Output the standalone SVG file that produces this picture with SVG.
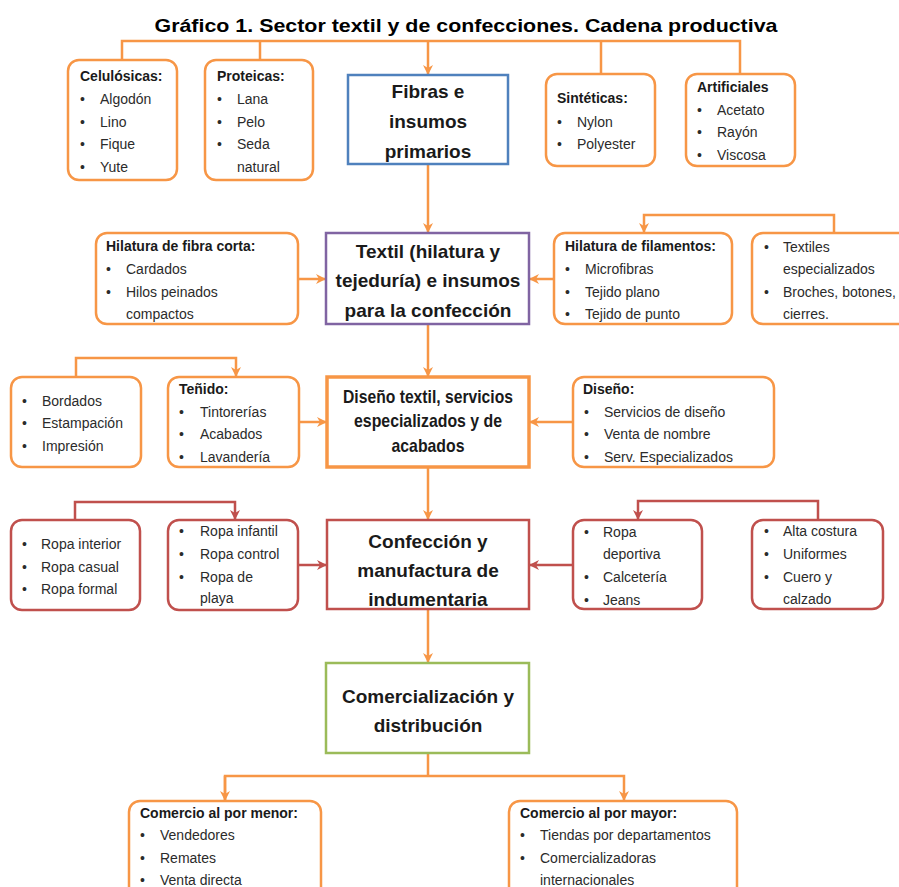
<svg xmlns="http://www.w3.org/2000/svg" width="899" height="887" viewBox="0 0 899 887">
<style>
.t{font-family:"Liberation Sans",Arial,sans-serif;font-size:14px;fill:#2b2b2b}
.h{font-weight:bold;fill:#1a1a1a}
.m{font-family:"Liberation Sans",Arial,sans-serif;font-size:19px;font-weight:bold;fill:#1a1a1a;text-anchor:middle}
.ob{fill:#fff;stroke:#f79646;stroke-width:2.5}
.rb{fill:#fff;stroke:#c0504d;stroke-width:2.5}
.oc{fill:none;stroke:#f79646;stroke-width:2.5}
.rc{fill:none;stroke:#c0504d;stroke-width:2.5}
</style>
<defs>
<marker id="ao" viewBox="0 0 10 10" refX="10" refY="5" markerWidth="10" markerHeight="10" markerUnits="userSpaceOnUse" orient="auto"><path d="M0,0 L10,5 L0,10 L3,5 z" fill="#f79646"/></marker>
<marker id="ar" viewBox="0 0 10 10" refX="10" refY="5" markerWidth="10" markerHeight="10" markerUnits="userSpaceOnUse" orient="auto"><path d="M0,0 L10,5 L0,10 L3,5 z" fill="#c0504d"/></marker>
</defs>
<rect width="899" height="887" fill="#fff"/>
<text x="466" y="32" class="m" font-size="20" textLength="623" lengthAdjust="spacingAndGlyphs" style="fill:#000">Gráfico 1. Sector textil y de confecciones. Cadena productiva</text>

<g id="connectors">
<polyline class="oc" points="122,60 122,41 740,41 740,74"/>
<line class="oc" x1="260" y1="41" x2="260" y2="60"/>
<line class="oc" x1="601" y1="41" x2="601" y2="74"/>
<line class="oc" x1="428" y1="41" x2="428" y2="75" marker-end="url(#ao)"/>
<line class="oc" x1="428" y1="164" x2="428" y2="233" marker-end="url(#ao)"/>
<line class="oc" x1="298" y1="279" x2="326" y2="279" marker-end="url(#ao)"/>
<line class="oc" x1="554" y1="279" x2="529" y2="279" marker-end="url(#ao)"/>
<polyline class="oc" points="834,233 834,215 644,215 644,233" marker-end="url(#ao)"/>
<line class="oc" x1="428" y1="324" x2="428" y2="377" marker-end="url(#ao)"/>
<polyline class="oc" points="76,377 76,358 236,358 236,377" marker-end="url(#ao)"/>
<line class="oc" x1="299" y1="422" x2="327" y2="422" marker-end="url(#ao)"/>
<line class="oc" x1="573" y1="422" x2="529" y2="422" marker-end="url(#ao)"/>
<line class="oc" x1="428" y1="467" x2="428" y2="520" marker-end="url(#ao)"/>
<polyline class="rc" points="75,520 75,502 235,502 235,520" marker-end="url(#ar)"/>
<line class="rc" x1="298" y1="565" x2="327" y2="565" marker-end="url(#ar)"/>
<polyline class="rc" points="818,520 818,501 638,501 638,520" marker-end="url(#ar)"/>
<line class="rc" x1="573" y1="565" x2="529" y2="565" marker-end="url(#ar)"/>
<line class="oc" x1="428" y1="609" x2="428" y2="663" marker-end="url(#ao)"/>
<line class="oc" x1="428" y1="753" x2="428" y2="776"/>
<polyline class="oc" points="225,801 225,776 624,776 624,801" marker-end="url(#ao)"/>
<line class="oc" x1="225" y1="776" x2="225" y2="801" marker-end="url(#ao)"/>
</g>

<g id="celulosicas">
<rect class="ob" x="68" y="60" width="109" height="120" rx="11"/>
<text class="t h" x="80" y="81">Celulósicas:</text>
<text class="t"><tspan x="80" y="104">•</tspan><tspan x="100" y="104">Algodón</tspan><tspan x="80" y="127">•</tspan><tspan x="100" y="127">Lino</tspan><tspan x="80" y="149">•</tspan><tspan x="100" y="149">Fique</tspan><tspan x="80" y="172">•</tspan><tspan x="100" y="172">Yute</tspan></text>
</g>
<g id="proteicas">
<rect class="ob" x="205" y="60" width="108" height="120" rx="11"/>
<text class="t h" x="217" y="81">Proteicas:</text>
<text class="t"><tspan x="217" y="104">•</tspan><tspan x="237" y="104">Lana</tspan><tspan x="217" y="127">•</tspan><tspan x="237" y="127">Pelo</tspan><tspan x="217" y="149">•</tspan><tspan x="237" y="149">Seda</tspan><tspan x="237" y="172">natural</tspan></text>
</g>
<g id="fibras">
<rect x="348" y="75" width="160" height="89" fill="#fff" stroke="#4f81bd" stroke-width="2.5"/>
<text class="m"><tspan x="428" y="98">Fibras e</tspan><tspan x="428" y="128">insumos</tspan><tspan x="428" y="158">primarios</tspan></text>
</g>
<g id="sinteticas">
<rect class="ob" x="546" y="74" width="109" height="92" rx="11"/>
<text class="t h" x="557" y="103">Sintéticas:</text>
<text class="t"><tspan x="557" y="127">•</tspan><tspan x="577" y="127">Nylon</tspan><tspan x="557" y="149">•</tspan><tspan x="577" y="149">Polyester</tspan></text>
</g>
<g id="artificiales">
<rect class="ob" x="686" y="74" width="109" height="92" rx="11"/>
<text class="t h" x="697" y="92">Artificiales</text>
<text class="t"><tspan x="697" y="115">•</tspan><tspan x="717" y="115">Acetato</tspan><tspan x="697" y="137">•</tspan><tspan x="717" y="137">Rayón</tspan><tspan x="697" y="160">•</tspan><tspan x="717" y="160">Viscosa</tspan></text>
</g>

<g id="fibra-corta">
<rect class="ob" x="96" y="233" width="202" height="91" rx="11"/>
<text class="t h" x="106" y="251">Hilatura de fibra corta:</text>
<text class="t"><tspan x="106" y="274">•</tspan><tspan x="126" y="274">Cardados</tspan><tspan x="106" y="297">•</tspan><tspan x="126" y="297">Hilos peinados</tspan><tspan x="126" y="319">compactos</tspan></text>
</g>
<g id="textil">
<rect x="326" y="233" width="203" height="91" fill="#fff" stroke="#8064a2" stroke-width="2.5"/>
<text class="m"><tspan x="428" y="258">Textil (hilatura y</tspan><tspan x="428" y="287">tejeduría) e insumos</tspan><tspan x="428" y="317">para la confección</tspan></text>
</g>
<g id="filamentos">
<rect class="ob" x="554" y="233" width="178" height="91" rx="11"/>
<text class="t h" x="565" y="251">Hilatura de filamentos:</text>
<text class="t"><tspan x="565" y="274">•</tspan><tspan x="585" y="274">Microfibras</tspan><tspan x="565" y="297">•</tspan><tspan x="585" y="297">Tejido plano</tspan><tspan x="565" y="319">•</tspan><tspan x="585" y="319">Tejido de punto</tspan></text>
</g>
<g id="textiles-esp">
<rect class="ob" x="752" y="233" width="160" height="91" rx="11"/>
<text class="t"><tspan x="764" y="252">•</tspan><tspan x="783" y="252">Textiles</tspan><tspan x="783" y="274">especializados</tspan><tspan x="764" y="297">•</tspan><tspan x="783" y="297">Broches, botones,</tspan><tspan x="783" y="319">cierres.</tspan></text>
</g>

<g id="bordados">
<rect class="ob" x="11" y="377" width="130" height="90" rx="11"/>
<text class="t"><tspan x="22" y="406">•</tspan><tspan x="42" y="406">Bordados</tspan><tspan x="22" y="428">•</tspan><tspan x="42" y="428">Estampación</tspan><tspan x="22" y="451">•</tspan><tspan x="42" y="451">Impresión</tspan></text>
</g>
<g id="tenido">
<rect class="ob" x="168" y="377" width="131" height="90" rx="11"/>
<text class="t h" x="179" y="394">Teñido:</text>
<text class="t"><tspan x="179" y="417">•</tspan><tspan x="200" y="417">Tintorerías</tspan><tspan x="179" y="439">•</tspan><tspan x="200" y="439">Acabados</tspan><tspan x="179" y="462">•</tspan><tspan x="200" y="462">Lavandería</tspan></text>
</g>
<g id="diseno-textil">
<rect x="327" y="377" width="202" height="90" fill="#fff" stroke="#f79646" stroke-width="3.5"/>
<text class="m" font-size="14"><tspan x="428" y="403" textLength="170" lengthAdjust="spacingAndGlyphs">Diseño textil, servicios</tspan></text>
<text class="m" font-size="14"><tspan x="428" y="427" textLength="148" lengthAdjust="spacingAndGlyphs">especializados y de</tspan></text>
<text class="m" font-size="14"><tspan x="428" y="452" textLength="73" lengthAdjust="spacingAndGlyphs">acabados</tspan></text>
</g>
<g id="diseno">
<rect class="ob" x="573" y="377" width="201" height="90" rx="11"/>
<text class="t h" x="583" y="394">Diseño:</text>
<text class="t"><tspan x="584" y="417">•</tspan><tspan x="604" y="417">Servicios de diseño</tspan><tspan x="584" y="439">•</tspan><tspan x="604" y="439">Venta de nombre</tspan><tspan x="584" y="462">•</tspan><tspan x="604" y="462">Serv. Especializados</tspan></text>
</g>

<g id="ropa-interior">
<rect class="rb" x="11" y="520" width="129" height="90" rx="11"/>
<text class="t"><tspan x="22" y="549">•</tspan><tspan x="41" y="549">Ropa interior</tspan><tspan x="22" y="572">•</tspan><tspan x="41" y="572">Ropa casual</tspan><tspan x="22" y="594">•</tspan><tspan x="41" y="594">Ropa formal</tspan></text>
</g>
<g id="ropa-infantil">
<rect class="rb" x="168" y="520" width="130" height="90" rx="11"/>
<text class="t"><tspan x="179" y="536">•</tspan><tspan x="200" y="536">Ropa infantil</tspan><tspan x="179" y="559">•</tspan><tspan x="200" y="559">Ropa control</tspan><tspan x="179" y="582">•</tspan><tspan x="200" y="582">Ropa de</tspan><tspan x="200" y="603">playa</tspan></text>
</g>
<g id="confeccion">
<rect x="327" y="520" width="202" height="89" fill="#fff" stroke="#c0504d" stroke-width="2.5"/>
<text class="m"><tspan x="428" y="548">Confección y</tspan><tspan x="428" y="577">manufactura de</tspan><tspan x="428" y="606">indumentaria</tspan></text>
</g>
<g id="ropa-deportiva">
<rect class="rb" x="573" y="520" width="129" height="89" rx="11"/>
<text class="t"><tspan x="584" y="537">•</tspan><tspan x="603" y="537">Ropa</tspan><tspan x="603" y="559">deportiva</tspan><tspan x="584" y="582">•</tspan><tspan x="603" y="582">Calcetería</tspan><tspan x="584" y="605">•</tspan><tspan x="603" y="605">Jeans</tspan></text>
</g>
<g id="alta-costura">
<rect class="rb" x="752" y="520" width="131" height="89" rx="11"/>
<text class="t"><tspan x="764" y="536">•</tspan><tspan x="783" y="536">Alta costura</tspan><tspan x="764" y="559">•</tspan><tspan x="783" y="559">Uniformes</tspan><tspan x="764" y="582">•</tspan><tspan x="783" y="582">Cuero y</tspan><tspan x="783" y="604">calzado</tspan></text>
</g>

<g id="comercializacion">
<rect x="326" y="663" width="203" height="90" fill="#fff" stroke="#9bbb59" stroke-width="2.5"/>
<text class="m"><tspan x="428" y="703">Comercialización y</tspan><tspan x="428" y="732">distribución</tspan></text>
</g>
<g id="menor">
<rect class="ob" x="129" y="801" width="192" height="100" rx="11"/>
<text class="t h" x="140" y="818">Comercio al por menor:</text>
<text class="t"><tspan x="140" y="840">•</tspan><tspan x="160" y="840">Vendedores</tspan><tspan x="140" y="863">•</tspan><tspan x="160" y="863">Remates</tspan><tspan x="140" y="885">•</tspan><tspan x="160" y="885">Venta directa</tspan></text>
</g>
<g id="mayor">
<rect class="ob" x="509" y="801" width="228" height="100" rx="11"/>
<text class="t h" x="520" y="818">Comercio al por mayor:</text>
<text class="t"><tspan x="520" y="840">•</tspan><tspan x="540" y="840">Tiendas por departamentos</tspan><tspan x="520" y="863">•</tspan><tspan x="540" y="863">Comercializadoras</tspan><tspan x="540" y="885">internacionales</tspan></text>
</g>
</svg>
